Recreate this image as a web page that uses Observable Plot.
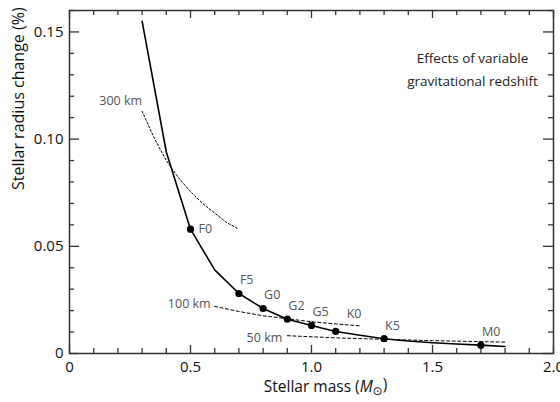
<!DOCTYPE html>
<html>
<head>
<meta charset="utf-8">
<script src="https://cdn.jsdelivr.net/npm/d3@7"></script>
<script src="https://cdn.jsdelivr.net/npm/@observablehq/plot@0.6"></script>
<style>
  html, body { margin: 0; padding: 0; background: #fff; overflow: hidden; }
  #chart svg { display: block; font-family: "Open Sans", sans-serif; }
</style>
</head>
<body>
<div id="chart"></div>
<script>
// Main relation: stellar mass (M_sun) vs stellar radius change (%)
const mass = [0.3, 0.4, 0.5, 0.6, 0.7, 0.8, 0.9, 1.0, 1.1, 1.2, 1.3, 1.4, 1.5, 1.6, 1.7, 1.8];
const radiusChange = [0.155, 0.094, 0.058, 0.039, 0.028, 0.021, 0.016, 0.0131, 0.0103, 0.0085, 0.0069, 0.0058, 0.0050, 0.0044, 0.0039, 0.0033];

// Spectral-type markers
const spectralTypes = ["F0", "F5", "G0", "G2", "G5", "K0", "K5", "M0"];
const spectralMass = [0.5, 0.7, 0.8, 0.9, 1.0, 1.1, 1.3, 1.7];
const spectralRadius = [0.058, 0.028, 0.021, 0.016, 0.0131, 0.0103, 0.0069, 0.0039];

// Redshift reference curves
const km300Mass = [0.3, 0.35, 0.4, 0.45, 0.5, 0.55, 0.6, 0.65, 0.7];
const km300Radius = [0.113, 0.1005, 0.090, 0.082, 0.0755, 0.070, 0.0655, 0.061, 0.058];
const km100Mass = [0.6, 0.7, 0.8, 0.9, 1.0, 1.1, 1.2];
const km100Radius = [0.022, 0.0196, 0.0176, 0.0162, 0.0148, 0.0138, 0.0129];
const km50Mass = [0.9, 1.1, 1.3, 1.5, 1.8];
const km50Radius = [0.0083, 0.0073, 0.0066, 0.0060, 0.0053];
const curveLabels = ["300 km", "100 km", "50 km"];

// Axis ticks
const xMajor = [0, 0.5, 1.0, 1.5, 2.0];
const xTickLabels = ["0", "0.5", "1.0", "1.5", "2.0"];
const xMinor = [0.1, 0.2, 0.3, 0.4, 0.6, 0.7, 0.8, 0.9, 1.1, 1.2, 1.3, 1.4, 1.6, 1.7, 1.8, 1.9];
const yMajor = [0, 0.05, 0.10, 0.15];
const yTickLabels = ["0", "0.05", "0.10", "0.15"];
const yMinor = [0.01, 0.02, 0.03, 0.04, 0.06, 0.07, 0.08, 0.09, 0.11, 0.12, 0.13, 0.14, 0.16];

const title = ["Effects of variable", "gravitational redshift"];
const xLabel = "Stellar mass (M\u2299)";
const yLabel = "Stellar radius change (%)";

const W = 560, H = 402;
const mTop = 10, mRight = 7, mBottom = 49, mLeft = 69;
const innerW = W - mLeft - mRight, innerH = H - mTop - mBottom;

const zip = (xs, ys) => xs.map((x, i) => ({x, y: ys[i]}));
const mainData = zip(mass, radiusChange);
const specData = spectralTypes.map((t, i) => ({t, x: spectralMass[i], y: spectralRadius[i]}));
const c300 = zip(km300Mass, km300Radius);
const c100 = zip(km100Mass, km100Radius);
const c50 = zip(km50Mass, km50Radius);

const axisColor = "#333";
const labelGray = "#555";
const fs = 12.5;
const tk = {stroke: axisColor, strokeWidth: 1.3};

const plot = Plot.plot({
  width: W, height: H,
  marginTop: mTop, marginRight: mRight, marginBottom: mBottom, marginLeft: mLeft,
  x: {domain: [0, 2]},
  y: {domain: [0, 0.16]},
  marks: [
    // ticks (inward, all four sides)
    Plot.ruleX(xMajor, {x: d => d, insetTop: innerH - 8, ...tk}),
    Plot.ruleX(xMinor, {x: d => d, insetTop: innerH - 5, ...tk}),
    Plot.ruleX(xMajor, {x: d => d, insetBottom: innerH - 8, ...tk}),
    Plot.ruleX(xMinor, {x: d => d, insetBottom: innerH - 5, ...tk}),
    Plot.ruleY(yMajor, {y: d => d, insetRight: innerW - 10, ...tk}),
    Plot.ruleY(yMinor, {y: d => d, insetRight: innerW - 5, ...tk}),
    Plot.ruleY(yMajor, {y: d => d, insetLeft: innerW - 10, ...tk}),
    Plot.ruleY(yMinor, {y: d => d, insetLeft: innerW - 5, ...tk}),
    Plot.axisX({ticks: xMajor, tickSize: 0, tickPadding: 8, fontSize: 15, tickFormat: (d) => xTickLabels[xMajor.indexOf(d)], label: null, color: "#111"}),
    Plot.axisY({ticks: yMajor, tickSize: 0, tickPadding: 6, fontSize: 15, tickFormat: (d) => yTickLabels[yMajor.indexOf(d)], label: null, color: "#111"}),
    Plot.frame({stroke: axisColor, strokeWidth: 1.5}),

    // redshift reference curves
    Plot.line(c300, {x: "x", y: "y", stroke: "#000", strokeWidth: 1, strokeDasharray: "2,2"}),
    Plot.line(c100, {x: "x", y: "y", stroke: "#000", strokeWidth: 1, strokeDasharray: "3,2.5"}),
    Plot.line(c50, {x: "x", y: "y", stroke: "#000", strokeWidth: 1, strokeDasharray: "3,2.5"}),
    Plot.text([c300[0]], {x: "x", y: "y", text: () => curveLabels[0], textAnchor: "end", dx: 0, dy: -10, fill: labelGray, fontSize: fs}),
    Plot.text([c100[0]], {x: "x", y: "y", text: () => curveLabels[1], textAnchor: "end", dx: -4, dy: -2, fill: labelGray, fontSize: fs}),
    Plot.text([c50[0]], {x: "x", y: "y", text: () => curveLabels[2], textAnchor: "end", dx: -5, dy: 2, fill: labelGray, fontSize: fs}),

    // main curve and spectral types
    Plot.line(mainData, {x: "x", y: "y", stroke: "#000", strokeWidth: 1.6}),
    Plot.dot(specData, {x: "x", y: "y", r: 3.6, fill: "#000"}),
    Plot.text(specData.filter(d => d.t === "F0"), {x: "x", y: "y", text: "t", textAnchor: "start", dx: 8, dy: 0, fill: labelGray, fontSize: fs}),
    Plot.text(specData.filter(d => d.t !== "F0" && d.t !== "K0"), {x: "x", y: "y", text: "t", textAnchor: "start", dx: 1, dy: -13, fill: labelGray, fontSize: fs}),
    Plot.text(specData.filter(d => d.t === "K0"), {x: "x", y: "y", text: "t", textAnchor: "start", dx: 11, dy: -17, fill: labelGray, fontSize: fs}),

    // annotation title
    Plot.text([title.join("\n")], {frameAnchor: "top-right", dx: -81, dy: 36, text: d => d, textAnchor: "middle", lineHeight: 1.7, fill: "#222", fontSize: 13.5}),

    // axis labels
    Plot.text([xLabel], {frameAnchor: "bottom", dx: 14, dy: 38, text: d => d, fontSize: 15.5, fill: "#111"}),
    Plot.text([yLabel], {frameAnchor: "left", dx: -51, dy: 8, rotate: -90, text: d => d, fontSize: 16, fill: "#111"})
  ]
});
plot.style.fontFamily = "'Open Sans', sans-serif";
plot.style.background = "#fff";

// style the x-axis title with italic M and subscript sun symbol
d3.select(plot).selectAll("text").each(function() {
  if (this.textContent === xLabel) {
    const t = d3.select(this);
    t.text(null);
    t.append("tspan").text("Stellar mass (");
    t.append("tspan").attr("font-style", "italic").text("M");
    t.append("tspan").attr("font-size", 12).attr("dy", "0.3em").attr("font-family", "DejaVu Sans").text("\u2299");
    t.append("tspan").attr("dy", "-0.3em").text(")");
  }
});

document.getElementById("chart").appendChild(plot);
</script>
</body>
</html>
